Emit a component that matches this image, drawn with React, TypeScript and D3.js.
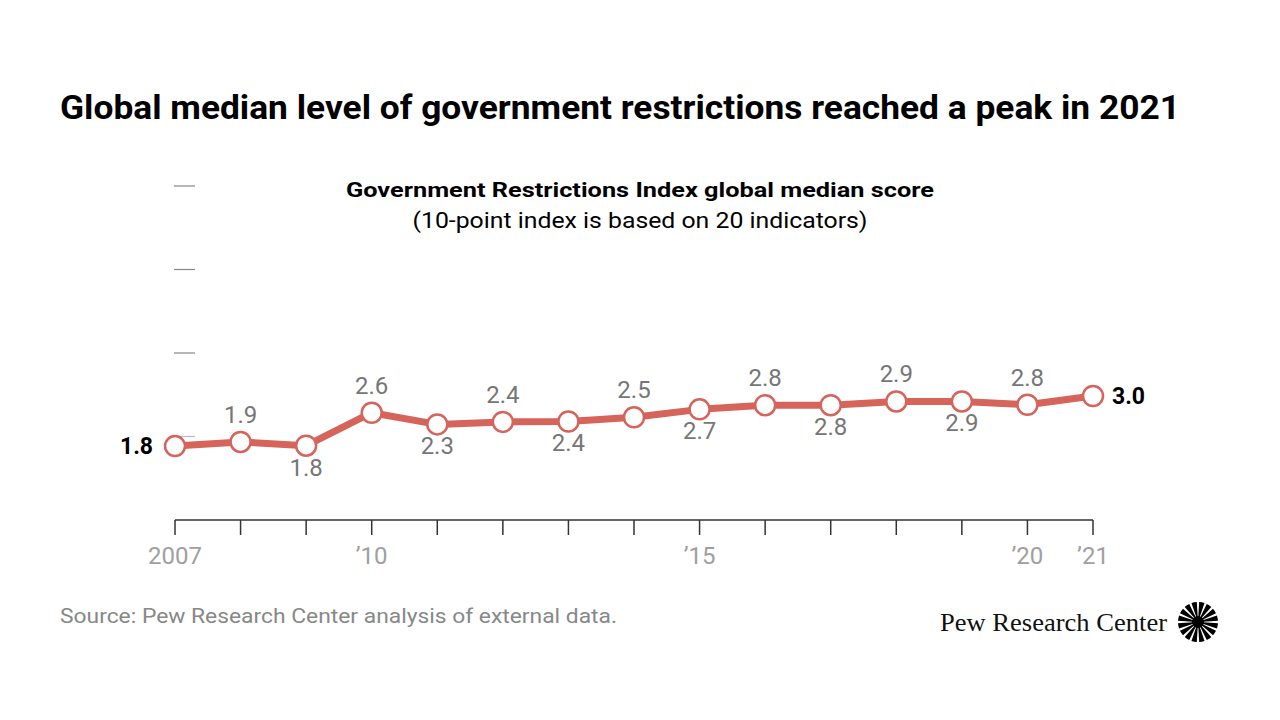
import React from "react";
import * as d3 from "d3";

const years = [2007, 2008, 2009, 2010, 2011, 2012, 2013, 2014, 2015, 2016, 2017, 2018, 2019, 2020, 2021];
const values = [1.77, 1.87, 1.78, 2.57, 2.29, 2.35, 2.36, 2.46, 2.65, 2.75, 2.75, 2.84, 2.84, 2.76, 2.97];
const labels = ["1.8", "1.9", "1.8", "2.6", "2.3", "2.4", "2.4", "2.5", "2.7", "2.8", "2.8", "2.9", "2.9", "2.8", "3.0"];
const labelPos = ["left", "above", "below", "above", "below", "above", "below", "above", "below", "above", "below", "above", "below", "above", "right"];
const yTicks = [2, 4, 6, 8];
const xTickLabels: [number, string][] = [[2007, "2007"], [2010, "\u201910"], [2015, "\u201915"], [2020, "\u201920"], [2021, "\u201921"]];

const title = "Global median level of government restrictions reached a peak in 2021";
const subtitle1 = "Government Restrictions Index global median score";
const subtitle2 = "(10-point index is based on 20 indicators)";
const source = "Source: Pew Research Center analysis of external data.";

export default function App() {
  const W = 1280, H = 720;
  const x = d3.scaleLinear().domain([2007, 2021]).range([175, 1093]);
  const y = d3.scaleLinear().domain([0, 2]).range([520, 436.5]);
  const line = d3.line<number>().x((_, i) => x(years[i])).y((v) => y(v));
  const color = "#d6645a";
  const font = "Roboto, 'Noto Sans', sans-serif";

  const rays = d3.range(16).map((i) => {
    const a0 = (i / 16) * 2 * Math.PI + 0.06;
    const a1 = ((i + 1) / 16) * 2 * Math.PI - 0.06;
    return d3.arc()({ innerRadius: 5, outerRadius: 20, startAngle: a0, endAngle: a1 } as any) as string;
  });

  return (
    <svg width={W} height={H} style={{ position: "absolute", left: 0, top: 0 }} fontFamily={font}>
      <rect width={W} height={H} fill="#fff" />
      <text x={60} y={119} fontSize={33} fontWeight={700} fill="#000" textLength={1120} lengthAdjust="spacingAndGlyphs">{title}</text>
      <text x={640} y={197} fontSize={21} fontWeight={700} fill="#000" textAnchor="middle" textLength={588} lengthAdjust="spacingAndGlyphs">{subtitle1}</text>
      <text x={640} y={228} fontSize={22} fill="#000" textAnchor="middle" textLength={455} lengthAdjust="spacingAndGlyphs">{subtitle2}</text>

      {yTicks.map((t) => (
        <line key={t} x1={174} x2={195} y1={y(t)} y2={y(t)} stroke={t === 2 ? "#bbb" : "#888"} strokeWidth={1.2} />
      ))}

      <line x1={x(2007)} x2={x(2021)} y1={520} y2={520} stroke="#333" strokeWidth={1.5} />
      {years.map((yr) => (
        <line key={yr} x1={x(yr)} x2={x(yr)} y1={520} y2={535} stroke="#333" strokeWidth={1.5} />
      ))}
      {xTickLabels.map(([yr, lab]) => (
        <text key={yr} x={x(yr)} y={564} fontSize={24} fill="#a0a0a0" textAnchor="middle">{lab}</text>
      ))}

      <path d={line(values) as string} fill="none" stroke={color} strokeWidth={7} strokeLinejoin="round" />
      {values.map((v, i) => (
        <circle key={i} cx={x(years[i])} cy={y(v)} r={10} fill="#fff" stroke={color} strokeWidth={2.5} />
      ))}
      {values.map((v, i) => {
        const p = labelPos[i];
        const cx = x(years[i]), cy = y(v);
        if (p === "left")
          return <text key={i} x={cx - 22} y={cy + 8} fontSize={23} fontWeight={700} fill="#000" textAnchor="end">{labels[i]}</text>;
        if (p === "right")
          return <text key={i} x={cx + 19} y={cy + 8} fontSize={23} fontWeight={700} fill="#000" textAnchor="start">{labels[i]}</text>;
        if (p === "above")
          return <text key={i} x={cx} y={cy - 19} fontSize={24} fill="#767676" textAnchor="middle">{labels[i]}</text>;
        return <text key={i} x={cx} y={cy + 30} fontSize={24} fill="#767676" textAnchor="middle">{labels[i]}</text>;
      })}

      <text x={60} y={623} fontSize={20.5} fill="#888" textLength={557} lengthAdjust="spacingAndGlyphs">{source}</text>
      <text x={1167} y={631} fontSize={26} fill="#111" textAnchor="end" fontFamily="'Liberation Serif', 'DejaVu Serif', serif" textLength={227} lengthAdjust="spacingAndGlyphs">Pew Research Center</text>
      <g transform="translate(1198,622)">
        {rays.map((d, i) => <path key={i} d={d} fill="#000" />)}
        <circle r={6} fill="#000" />
      </g>
    </svg>
  );
}
